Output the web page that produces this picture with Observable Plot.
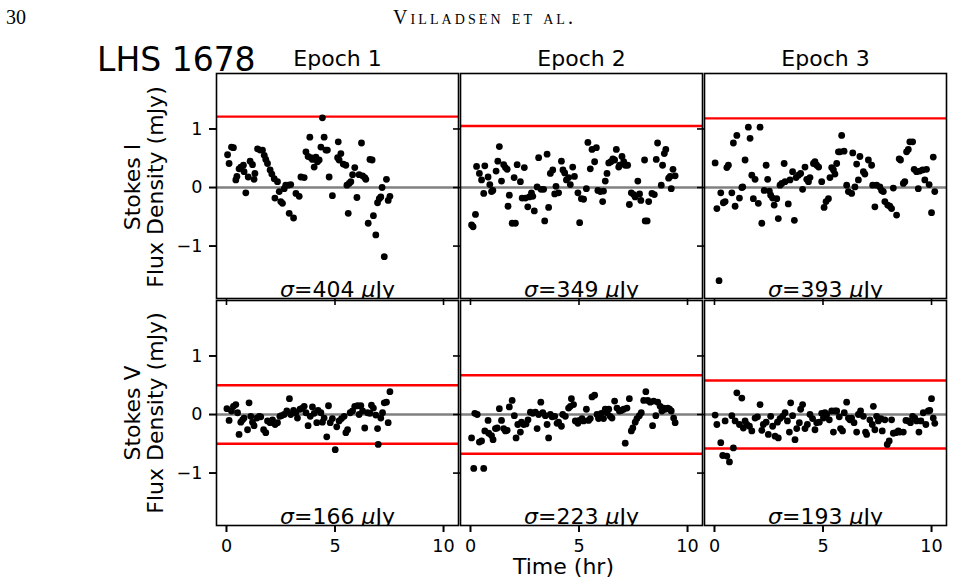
<!DOCTYPE html>
<html><head><meta charset="utf-8">
<script src="https://cdn.jsdelivr.net/npm/d3@7"></script>
<script src="https://cdn.jsdelivr.net/npm/@observablehq/plot@0.6"></script>
<style>
body{margin:0;background:#fff;}
#wrap{position:relative;width:953px;height:583px;overflow:hidden;}
</style></head><body><div id="wrap"></div>
<script>
// ---- categories / labels ----
const epochs = ["Epoch 1", "Epoch 2", "Epoch 3"];
const stokesParams = ["I", "V"];
const sigmaI = [404, 349, 393];      // μJy
const sigmaV = [166, 223, 193];      // μJy
const thresholdI = [1.21, 1.05, 1.18];   // red line (mJy)
const thresholdV = [0.50, 0.67, 0.58];   // red lines ± (mJy)
const xTicks = [0, 5, 10];
const yTicks = [-1, 0, 1];

// ---- series: [time (hr), flux density (mJy)] ----
const stokesI_epoch1 = [[0.05,0.56],[0.12,0.41],[0.23,0.69],[0.32,0.68],[0.43,0.13],[0.48,0.19],[0.58,0.32],[0.66,0.35],[0.78,0.38],[0.81,0.27],[0.89,-0.09],[1.00,0.18],[1.09,0.45],[1.20,0.39],[1.27,0.14],[1.31,0.24],[1.43,0.66],[1.55,0.64],[1.66,0.64],[1.74,0.55],[1.81,0.48],[1.89,0.41],[2.01,0.30],[2.09,0.23],[2.20,0.15],[2.23,-0.18],[2.35,0.10],[2.43,-0.07],[2.50,-0.24],[2.58,-0.27],[2.66,-0.02],[2.73,0.04],[2.84,0.04],[2.96,0.05],[2.89,-0.44],[3.09,-0.52],[3.20,-0.10],[3.35,-0.15],[3.43,0.18],[3.58,0.17],[3.66,0.61],[3.76,0.53],[3.84,0.86],[3.89,0.51],[3.96,0.48],[4.04,0.35],[4.12,0.52],[4.19,0.44],[4.27,0.47],[4.35,0.69],[4.42,1.19],[4.50,0.86],[4.58,0.64],[4.65,0.64],[4.73,0.18],[4.88,-0.14],[5.15,0.78],[5.12,0.51],[5.19,0.47],[5.27,0.58],[5.38,0.40],[5.50,0.38],[5.55,0.04],[5.61,-0.44],[5.65,0.07],[5.73,0.10],[5.81,0.22],[5.91,0.34],[6.01,-0.17],[6.11,0.22],[6.22,0.76],[6.27,0.20],[6.37,0.17],[6.42,0.14],[6.53,-0.61],[6.61,0.48],[6.71,0.47],[6.77,-0.48],[6.88,-0.81],[6.96,-0.26],[7.04,-0.19],[7.11,-0.16],[7.17,0.00],[7.27,-1.18],[7.37,0.14],[7.45,-0.22],[7.53,-0.15]];

const stokesI_epoch2 = [[0.05,-0.64],[0.12,-0.67],[0.23,-0.46],[0.28,0.36],[0.41,0.24],[0.51,0.13],[0.61,-0.10],[0.66,0.37],[0.81,0.18],[0.89,0.05],[0.97,-0.07],[1.03,-0.05],[1.18,0.28],[1.26,0.45],[1.33,0.70],[1.43,0.11],[1.53,0.39],[1.61,0.34],[1.69,0.31],[1.73,-0.32],[1.79,-0.13],[1.92,-0.61],[2.01,0.17],[2.07,-0.61],[2.15,0.39],[2.30,0.10],[2.38,-0.18],[2.48,0.34],[2.53,-0.18],[2.64,-0.33],[2.71,-0.16],[2.81,-0.09],[2.87,-0.15],[2.94,-0.40],[3.07,0.01],[3.14,0.51],[3.25,-0.03],[3.37,-0.03],[3.42,-0.57],[3.53,0.57],[3.60,-0.34],[3.68,0.24],[3.79,0.30],[3.88,-0.11],[3.94,0.02],[4.06,-0.09],[4.19,0.45],[4.26,0.30],[4.34,0.25],[4.42,0.13],[4.52,0.17],[4.60,0.05],[4.71,0.35],[4.79,0.19],[4.95,-0.09],[5.03,-0.60],[5.11,-0.19],[5.21,-0.20],[5.34,-0.02],[5.41,0.77],[5.52,0.32],[5.60,0.65],[5.72,0.44],[5.80,0.68],[5.87,-0.05],[5.98,-0.07],[6.09,-0.24],[6.13,-0.06],[6.21,0.11],[6.29,0.24],[6.37,0.42],[6.47,0.44],[6.56,0.49],[6.64,0.47],[6.72,0.65],[6.83,0.35],[6.87,0.38],[6.98,0.53],[7.06,0.44],[7.13,0.38],[7.24,0.38],[7.32,-0.29],[7.41,-0.09],[7.52,-0.12],[7.59,-0.16],[7.71,0.11],[7.79,-0.11],[7.85,-0.22],[8.02,0.47],[8.05,-0.57],[8.14,-0.57],[8.21,-0.24],[8.36,-0.10],[8.47,-0.12],[8.56,0.48],[8.62,0.76],[8.79,0.04],[8.85,0.38],[8.93,0.58],[9.00,0.65],[9.13,0.16],[9.20,0.19],[9.25,-0.02],[9.33,0.31],[9.43,0.20]];

const stokesI_epoch3 = [[0.03,0.42],[0.11,-0.36],[0.21,-1.59],[0.29,-0.09],[0.41,-0.26],[0.49,-0.24],[0.57,0.34],[0.64,0.38],[0.80,-0.09],[0.87,0.76],[0.95,-0.32],[1.03,0.89],[1.15,-0.18],[1.26,0.00],[1.30,0.01],[1.41,0.47],[1.56,1.03],[1.64,0.84],[1.72,0.21],[1.79,-0.19],[1.87,0.14],[2.02,-0.27],[2.10,1.03],[2.18,-0.61],[2.29,-0.05],[2.38,0.38],[2.45,0.14],[2.53,-0.06],[2.59,-0.13],[2.68,-0.18],[2.75,-0.30],[2.87,-0.19],[2.94,-0.53],[3.02,0.04],[3.10,0.07],[3.21,0.41],[3.25,0.10],[3.40,-0.28],[3.48,0.13],[3.60,0.27],[3.68,-0.56],[3.76,0.17],[3.87,0.21],[3.97,0.24],[4.06,-0.03],[4.17,0.35],[4.25,0.14],[4.33,0.10],[4.40,0.17],[4.56,0.41],[4.63,0.44],[4.71,0.38],[4.80,0.35],[4.94,0.10],[5.05,-0.34],[5.14,-0.24],[5.25,-0.19],[5.32,0.17],[5.40,0.34],[5.48,0.30],[5.55,0.23],[5.63,0.41],[5.71,0.61],[5.78,0.61],[5.86,0.89],[5.97,0.62],[6.09,0.04],[6.17,-0.07],[6.32,-0.10],[6.37,0.59],[6.47,0.01],[6.55,0.40],[6.63,0.13],[6.70,0.53],[6.86,0.27],[6.93,0.23],[7.09,0.47],[7.24,0.38],[7.29,0.04],[7.39,-0.33],[7.47,0.04],[7.62,0.01],[7.70,-0.05],[7.78,-0.07],[7.85,-0.24],[7.98,-0.30],[8.08,-0.32],[8.16,-0.36],[8.24,-0.01],[8.39,-0.47],[8.51,0.49],[8.57,0.47],[8.70,0.07],[8.77,0.10],[8.85,0.61],[8.93,0.65],[9.00,0.78],[9.13,0.78],[9.20,0.31],[9.31,0.27],[9.39,-0.02],[9.46,0.28],[9.59,0.30],[9.69,0.13],[9.77,0.31],[9.89,0.05],[10.00,-0.43],[10.08,0.52],[10.15,-0.07]];

const stokesV_epoch1 = [[0.02,0.10],[0.12,-0.10],[0.23,0.06],[0.32,0.14],[0.43,0.17],[0.51,0.03],[0.58,-0.34],[0.66,-0.13],[0.74,-0.09],[0.81,-0.06],[0.97,-0.26],[1.04,0.20],[1.12,-0.03],[1.20,-0.13],[1.27,-0.19],[1.40,-0.06],[1.51,-0.03],[1.58,-0.04],[1.71,-0.26],[1.81,-0.31],[1.89,-0.11],[2.01,-0.14],[2.12,-0.09],[2.24,-0.17],[2.35,-0.14],[2.46,-0.03],[2.53,-0.02],[2.66,0.00],[2.78,0.06],[2.90,0.27],[2.96,0.00],[3.09,0.07],[3.20,0.03],[3.27,-0.06],[3.39,0.09],[3.50,0.11],[3.58,0.14],[3.66,0.03],[3.76,-0.19],[3.86,-0.03],[3.96,0.13],[4.04,0.02],[4.16,-0.14],[4.22,0.07],[4.35,0.03],[4.42,-0.13],[4.50,-0.06],[4.62,-0.38],[4.70,0.15],[4.78,-0.14],[4.88,-0.07],[5.01,-0.60],[5.08,-0.21],[5.19,-0.11],[5.30,-0.07],[5.42,-0.03],[5.50,-0.31],[5.58,-0.26],[5.70,0.03],[5.81,0.06],[5.91,0.14],[6.04,0.15],[6.11,0.00],[6.19,0.15],[6.27,0.06],[6.37,-0.23],[6.50,0.03],[6.61,0.02],[6.68,0.16],[6.77,0.11],[6.88,-0.01],[6.96,-0.24],[6.99,-0.51],[7.11,-0.06],[7.19,0.03],[7.27,0.20],[7.37,0.21],[7.45,-0.14],[7.53,0.39]];

const stokesV_epoch2 = [[0.05,-0.40],[0.15,-0.92],[0.20,0.02],[0.31,0.00],[0.41,-0.47],[0.51,-0.45],[0.61,-0.92],[0.66,-0.28],[0.81,-0.10],[0.84,-0.32],[0.97,-0.36],[1.04,-0.43],[1.15,-0.24],[1.23,-0.23],[1.33,0.10],[1.43,-0.10],[1.53,-0.24],[1.61,-0.28],[1.69,-0.27],[1.79,0.13],[1.92,0.24],[2.02,-0.02],[2.10,-0.40],[2.18,-0.17],[2.30,-0.30],[2.35,-0.13],[2.45,-0.17],[2.56,-0.16],[2.65,-0.09],[2.76,0.04],[2.87,0.02],[2.99,0.04],[3.07,-0.24],[3.14,0.00],[3.24,0.21],[3.33,0.03],[3.45,-0.02],[3.53,-0.17],[3.60,-0.40],[3.68,0.00],[3.76,-0.04],[3.88,-0.03],[3.99,-0.15],[4.06,-0.13],[4.19,-0.20],[4.25,0.00],[4.37,-0.03],[4.52,0.11],[4.60,0.14],[4.65,0.27],[4.75,0.17],[4.83,-0.11],[4.95,-0.15],[5.02,-0.10],[5.14,-0.07],[5.21,-0.11],[5.34,0.09],[5.44,-0.10],[5.52,-0.07],[5.60,0.30],[5.72,0.33],[5.83,0.00],[5.90,-0.07],[6.03,0.02],[6.13,-0.07],[6.21,0.09],[6.29,0.03],[6.37,0.09],[6.44,-0.03],[6.52,-0.06],[6.64,0.23],[6.75,0.11],[6.86,0.06],[6.95,0.07],[7.06,0.09],[7.13,-0.49],[7.21,0.11],[7.32,0.27],[7.41,-0.28],[7.48,-0.23],[7.59,-0.13],[7.67,-0.07],[7.78,-0.02],[7.87,0.03],[7.98,0.24],[8.08,0.39],[8.17,0.24],[8.28,0.21],[8.39,-0.19],[8.44,0.23],[8.54,-0.02],[8.63,0.21],[8.74,0.14],[8.82,0.06],[8.90,0.11],[8.97,0.09],[9.09,0.11],[9.17,0.09],[9.25,0.06],[9.36,-0.06],[9.43,-0.14]];

const stokesV_epoch3 = [[0.03,-0.01],[0.11,-0.17],[0.29,-0.48],[0.38,-0.70],[0.49,-0.11],[0.57,-0.71],[0.69,-0.81],[0.80,-0.02],[0.87,-0.57],[0.95,-0.11],[1.03,0.37],[1.15,-0.17],[1.26,0.28],[1.33,-0.23],[1.41,-0.11],[1.49,-0.17],[1.61,-0.20],[1.72,-0.28],[1.87,-0.06],[1.98,-0.04],[2.10,0.17],[2.18,-0.27],[2.25,-0.17],[2.38,-0.13],[2.48,-0.34],[2.59,-0.03],[2.68,-0.20],[2.79,-0.37],[2.90,-0.13],[2.94,-0.40],[3.02,-0.07],[3.14,-0.03],[3.25,0.03],[3.36,-0.11],[3.45,-0.30],[3.51,0.20],[3.60,-0.02],[3.71,-0.43],[3.79,-0.24],[3.91,-0.14],[3.97,0.09],[4.06,0.17],[4.17,-0.24],[4.28,-0.17],[4.40,0.00],[4.52,-0.07],[4.63,-0.26],[4.71,-0.14],[4.83,-0.13],[4.94,0.02],[5.02,-0.06],[5.09,0.03],[5.17,0.00],[5.29,-0.09],[5.40,0.06],[5.48,-0.30],[5.55,0.06],[5.63,0.06],[5.75,-0.04],[5.81,-0.24],[5.90,-0.28],[5.98,0.03],[6.09,0.21],[6.17,-0.06],[6.24,-0.09],[6.32,-0.06],[6.43,-0.14],[6.55,-0.30],[6.63,0.00],[6.73,0.06],[6.86,-0.03],[6.96,-0.30],[7.01,-0.34],[7.16,-0.09],[7.27,-0.17],[7.32,0.14],[7.39,-0.26],[7.47,-0.03],[7.55,-0.11],[7.67,-0.07],[7.73,-0.28],[7.85,-0.09],[7.96,-0.51],[8.05,-0.45],[8.16,-0.09],[8.24,-0.32],[8.36,-0.31],[8.47,-0.28],[8.54,-0.30],[8.70,-0.30],[8.82,-0.10],[8.93,-0.11],[9.03,-0.14],[9.13,-0.03],[9.23,-0.06],[9.31,-0.11],[9.42,-0.30],[9.51,-0.11],[9.62,0.03],[9.74,-0.17],[9.85,0.06],[9.92,0.07],[10.00,0.27],[10.08,-0.06],[10.15,-0.15]];

// ---- tables built from the arrays ----
const seriesI = [stokesI_epoch1, stokesI_epoch2, stokesI_epoch3];
const seriesV = [stokesV_epoch1, stokesV_epoch2, stokesV_epoch3];
const points = [];
epochs.forEach((e, i) => {
  seriesI[i].forEach(([t, v]) => points.push({epoch: e, stokes: "I", t, v}));
  seriesV[i].forEach(([t, v]) => points.push({epoch: e, stokes: "V", t, v}));
});
const panels = [];
const limits = [];
epochs.forEach((e, i) => {
  panels.push({epoch: e, stokes: "I", sigma: sigmaI[i]});
  panels.push({epoch: e, stokes: "V", sigma: sigmaV[i]});
  limits.push({epoch: e, stokes: "I", v: thresholdI[i]});
  limits.push({epoch: e, stokes: "V", v: thresholdV[i]});
  limits.push({epoch: e, stokes: "V", v: -thresholdV[i]});
});

const FONT = "DejaVu Sans";
const intFmt = d3.format("d");
const chart = Plot.plot({
  width: 953,
  height: 583,
  marginLeft: 215.7,
  marginRight: 6.5,
  marginTop: 73,
  marginBottom: 57.7,
  style: {fontFamily: FONT, background: "white", color: "black", overflow: "visible"},
  fx: {domain: epochs, paddingInner: 0.0102, paddingOuter: 0, label: null},
  fy: {domain: stokesParams, paddingInner: 0.0088, paddingOuter: 0, axis: null, label: null},
  x: {domain: [-0.46, 10.69]},
  y: {domain: [-1.895, 1.947]},
  marks: [
    Plot.ruleY([0], {stroke: "#808080", strokeWidth: 2.3}),
    Plot.ruleY(limits, {y: "v", fx: "epoch", fy: "stokes", stroke: "red", strokeWidth: 2.4}),
    Plot.dot(points, {x: "t", y: "v", fx: "epoch", fy: "stokes", r: 3.4, fill: "black", stroke: null}),
    Plot.text(panels, {fx: "epoch", fy: "stokes", text: d => `σ=${d.sigma} μJy`, frameAnchor: "bottom", lineAnchor: "bottom", dy: -2, fontSize: 22, clip: true, fill: "black"}),
    Plot.frame({stroke: "black", strokeWidth: 1.6}),
    Plot.axisY({ticks: yTicks, tickSize: 7, tickFormat: () => "", label: null, strokeWidth: 1.6, facetAnchor: null}),
    Plot.axisY({ticks: yTicks, tickSize: 7, tickPadding: 7, tickFormat: intFmt, fontSize: 17.6, label: null, strokeWidth: 1.6}),
    Plot.axisX({ticks: xTicks, tickSize: 7, tickFormat: () => "", label: null, strokeWidth: 1.6, facetAnchor: null}),
    Plot.axisX({ticks: xTicks, tickSize: 7, tickPadding: 7, tickFormat: intFmt, fontSize: 17.6, label: null, strokeWidth: 1.6}),
    Plot.axisFx({anchor: "top", tickSize: 0, tickPadding: 8, fontSize: 22, label: null})
  ]
});

document.getElementById("wrap").appendChild(chart);

// italic σ and μ as in the mathtext original
d3.select(chart).selectAll("text").each(function() {
  const s = this.textContent;
  const m = /^σ=(\d+) μJy$/.exec(s);
  if (!m) return;
  const t = d3.select(this);
  t.text(null);
  t.append("tspan").attr("font-style", "italic").text("σ");
  t.append("tspan").text(`=${m[1]} `);
  t.append("tspan").attr("font-style", "italic").text("μ");
  t.append("tspan").text("Jy");
});

// annotations
const svg = d3.select(chart);
const ann = svg.append("g").attr("fill", "black");
ann.append("text").attr("x", 6).attr("y", 24).attr("text-anchor", "start").attr("font-family", "Liberation Serif, serif").attr("font-size", 20).text("30");
ann.append("text").attr("x", 483).attr("y", 24).attr("text-anchor", "middle").attr("font-family", "Liberation Serif, serif")
  .attr("font-size", 20).style("font-variant", "small-caps").attr("textLength", 180).attr("lengthAdjust", "spacing").text("Villadsen et al.");
ann.append("text").attr("x", 97).attr("y", 71).attr("text-anchor", "start").attr("font-family", FONT).attr("font-size", 33).text("LHS 1678");
const rowLabels = [["Stokes I", 187], ["Stokes V", 413]];
rowLabels.forEach(([lab, cy]) => {
  ann.append("text").attr("transform", `translate(139.5,${cy}) rotate(-90)`).attr("text-anchor", "middle")
    .attr("font-family", FONT).attr("font-size", 22).text(lab);
  ann.append("text").attr("transform", `translate(162.5,${cy}) rotate(-90)`).attr("text-anchor", "middle")
    .attr("font-family", FONT).attr("font-size", 22).text("Flux Density (mJy)");
});
ann.append("text").attr("x", 563.5).attr("y", 574).attr("text-anchor", "middle").attr("font-family", FONT).attr("font-size", 22).text("Time (hr)");
</script></body></html>
